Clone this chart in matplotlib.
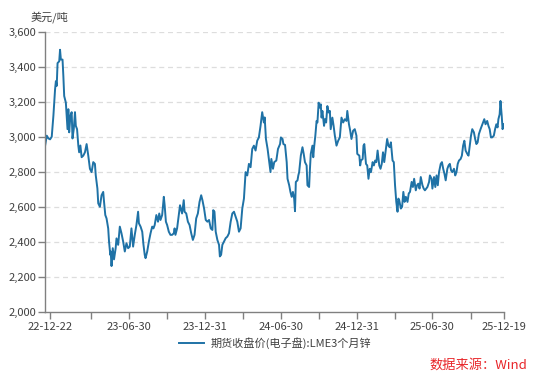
import pandas as pd
import matplotlib
matplotlib.use('Agg')
import matplotlib.pyplot as plt
import matplotlib.dates as mdates
from matplotlib.ticker import FuncFormatter

plt.rcParams['font.family'] = ['Noto Sans CJK SC', 'DejaVu Sans']

# LME 3-month zinc, days counted from 2022-12-22
start = pd.Timestamp('2022-12-22')
day_offsets = [
    -12, -8, -4, 0, 4, 8, 12, 14, 16, 18, 22, 24, 26, 30, 32, 34, 38, 40, 42, 44,
    46, 49, 52, 54, 57, 60, 62, 65, 68, 70, 73, 76, 80, 84, 88, 92, 96, 100, 104, 108,
    110, 114, 116, 120, 124, 128, 130, 133, 136, 140, 142, 145, 146, 148, 151, 154, 158, 160, 164, 168,
    172, 176, 180, 184, 188, 192, 196, 200, 204, 208, 212, 214, 218, 222, 225, 228, 230, 234, 238, 242,
    246, 249, 252, 256, 260, 263, 266, 270, 274, 276, 279, 282, 286, 290, 294, 298, 300, 302, 306, 310,
    313, 316, 318, 322, 324, 328, 332, 336, 340, 344, 348, 352, 356, 360, 364, 367, 371, 375, 379, 383,
    387, 391, 393, 396, 399, 403, 407, 409, 412, 415, 419, 423, 427, 431, 435, 439, 443, 447, 451, 455,
    459, 463, 467, 471, 475, 479, 483, 487, 491, 495, 499, 503, 507, 511, 515, 517, 520, 524, 528, 531,
    533, 537, 540, 545, 549, 554, 556, 560, 562, 566, 570, 572, 576, 579, 582, 585, 588, 590, 592, 596,
    598, 600, 604, 608, 611, 614, 618, 620, 624, 626, 628, 632, 634, 636, 639, 642, 644, 647, 649, 652,
    654, 656, 660, 662, 665, 668, 671, 674, 676, 680, 683, 686, 690, 694, 698, 702, 706, 710, 714, 716,
    720, 723, 726, 730, 734, 738, 740, 745, 747, 749, 753, 755, 757, 761, 764, 767, 770, 773, 777, 780,
    783, 786, 789, 793, 796, 799, 802, 805, 809, 812, 815, 818, 821, 825, 828, 831, 834, 837, 839, 841,
    845, 848, 851, 854, 857, 861, 864, 867, 871, 874, 877, 881, 884, 887, 890, 893, 897, 900, 903, 906,
    909, 913, 915, 919, 921, 925, 928, 931, 934, 937, 941, 944, 947, 950, 953, 957, 960, 963, 966, 969,
    973, 976, 979, 982, 985, 989, 992, 995, 998, 1001, 1005, 1008, 1011, 1014, 1017, 1021, 1024, 1027, 1030, 1033,
    1037, 1040, 1043, 1046, 1049, 1053, 1056, 1059, 1062, 1065, 1069, 1072, 1075, 1078, 1080, 1083, 1085, 1088, 1090, 1093,
]
prices = [
    2949, 3006, 2990, 2985, 3000, 3120, 3270, 3317, 3290, 3420, 3430, 3496, 3440, 3440, 3345, 3232, 3194, 3120, 3043, 3157,
    3025, 3120, 3140, 2990, 3043, 3140, 3062, 3043, 2950, 2911, 2950, 2883, 2892, 2911, 2958, 2892, 2817, 2798, 2855, 2845,
    2780, 2704, 2620, 2600, 2666, 2685, 2628, 2553, 2534, 2477, 2402, 2326, 2345, 2262, 2364, 2300, 2364, 2420, 2383, 2487,
    2449, 2402, 2345, 2392, 2364, 2373, 2477, 2373, 2440, 2496, 2572, 2506, 2487, 2458, 2383, 2326, 2307, 2345, 2402, 2449,
    2487, 2477, 2496, 2553, 2515, 2562, 2525, 2553, 2657, 2609, 2515, 2496, 2458, 2440, 2440, 2449, 2477, 2440, 2477, 2553,
    2609, 2581, 2562, 2638, 2572, 2562, 2515, 2496, 2449, 2411, 2440, 2534, 2562, 2628, 2666, 2638, 2590, 2525, 2515, 2525,
    2477, 2468, 2581, 2572, 2458, 2411, 2383, 2317, 2326, 2383, 2402, 2421, 2430, 2449, 2515, 2562, 2572, 2543, 2515, 2458,
    2477, 2590, 2647, 2798, 2779, 2845, 2826, 2930, 2949, 2921, 2977, 2996, 3062, 3140, 3081, 3110, 2987, 2930, 2855, 2798,
    2873, 2817, 2855, 2864, 2930, 2958, 2996, 2987, 2958, 2953, 2855, 2760, 2723, 2685, 2657, 2685, 2647, 2575, 2742, 2751,
    2779, 2798, 2892, 2940, 2902, 2855, 2836, 2723, 2713, 2817, 2902, 2949, 2883, 2940, 3006, 3090, 3081, 3194, 3166, 3185,
    3109, 3147, 3062, 3100, 3081, 3175, 3138, 3147, 3043, 3109, 3062, 3006, 2949, 2977, 2996, 3109, 3081, 3100, 3090, 3147,
    3071, 3034, 2987, 3034, 3043, 3006, 2902, 2892, 2836, 2864, 2873, 2949, 2958, 2845, 2836, 2760, 2817, 2798, 2855, 2836,
    2864, 2855, 2921, 2836, 2817, 2845, 2911, 2855, 2930, 2987, 2949, 2940, 2968, 2864, 2855, 2723, 2628, 2572, 2647, 2638,
    2590, 2600, 2685, 2628, 2657, 2628, 2676, 2685, 2742, 2713, 2760, 2694, 2723, 2732, 2704, 2770, 2723, 2704, 2694, 2704,
    2713, 2742, 2779, 2760, 2704, 2770, 2713, 2779, 2723, 2798, 2845, 2855, 2817, 2789, 2751, 2817, 2836, 2845, 2808, 2798,
    2817, 2779, 2798, 2845, 2864, 2873, 2892, 2949, 2977, 2921, 2902, 2892, 2949, 3006, 3043, 3025, 2987, 2958, 2968, 3015,
    3043, 3062, 3081, 3100, 3071, 3090, 3062, 3043, 2996, 2996, 3006, 3043, 3071, 3053, 3100, 3128, 3204, 3119, 3043, 3071,
]
major_dates = ['2022-12-22', '2023-06-30', '2023-12-31', '2024-06-30',
               '2024-12-31', '2025-06-30', '2025-12-19']
minor_dates = ['2023-03-31', '2023-09-30', '2024-03-31', '2024-09-30',
               '2025-03-31', '2025-09-30']
y_ticks = [2000, 2200, 2400, 2600, 2800, 3000, 3200, 3400, 3600]

dates = start + pd.to_timedelta(day_offsets, unit='D')

fig = plt.figure(figsize=(5.5, 3.8), dpi=100)
ax = fig.add_axes([0.082, 0.179, 0.834, 0.738])

line_color = '#1f72a6'
ax.plot(dates, prices, color=line_color, lw=1.4,
        label='期货收盘价(电子盘):LME3个月锌')

ax.set_xlim(dates[0], pd.Timestamp('2025-12-19'))
ax.set_ylim(2000, 3600)
ax.set_yticks(y_ticks)
ax.yaxis.set_major_formatter(FuncFormatter(lambda v, p: f'{int(v):,}'))

ax.set_xticks(pd.to_datetime(major_dates))
ax.set_xticks(pd.to_datetime(minor_dates), minor=True)
ax.xaxis.set_major_formatter(mdates.DateFormatter('%y-%m-%d'))

for v in y_ticks[1:]:
    ax.axhline(v, color='#dddddd', lw=0.9, ls=(0, (4, 3)), zorder=0)

for s in ['top', 'right']:
    ax.spines[s].set_visible(False)
for s in ['left', 'bottom']:
    ax.spines[s].set_color('#808080')
    ax.spines[s].set_linewidth(1.0)

ax.tick_params(axis='both', which='both', colors='#808080', labelcolor='#404040',
               labelsize=8, length=5, width=1.0, direction='out')
ax.tick_params(axis='y', pad=1)
ax.tick_params(axis='x', pad=2)

fig.text(0.055, 0.955, '美元/吨', fontsize=8, color='#404040', ha='left', va='center')

leg = fig.legend(loc='center', bbox_to_anchor=(0.5, 0.097), frameon=False,
                 fontsize=8, handlelength=2.2, handletextpad=0.6)
for t in leg.get_texts():
    t.set_color('#404040')

fig.text(0.958, 0.038, '数据来源：Wind', fontsize=9.5, color='#e8262a',
         ha='right', va='center')

fig.savefig('out.png', dpi=100)
